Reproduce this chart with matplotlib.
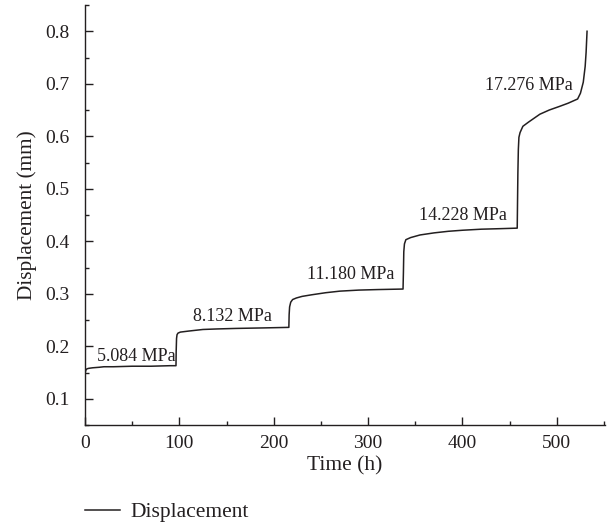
import numpy as np
import matplotlib
matplotlib.use("Agg")
import matplotlib.pyplot as plt
from matplotlib.ticker import MultipleLocator

plt.rcParams['font.family'] = ['Liberation Serif', 'DejaVu Serif']
plt.rcParams['font.size'] = 12

# time (h) and displacement (mm)
time_h = [0, 0.5, 1, 2, 4, 8, 15, 20, 30, 50, 70, 90, 96.4,
          96.6, 97, 97.5, 98.5, 101, 110, 120, 125, 140, 160, 190, 216,
          216.3, 216.8, 218, 220, 224, 230, 240, 255, 270, 290, 310, 337,
          337.4, 337.8, 338.5, 340, 345, 355, 370, 385, 400, 420, 440, 458,
          458.3, 458.7, 459.2, 459.8, 461, 464, 470, 482, 492, 503, 512, 522,
          525, 528, 530, 531, 532]
disp_mm = [0.148, 0.152, 0.155, 0.157, 0.158, 0.159, 0.160, 0.161, 0.161, 0.162, 0.162, 0.163, 0.163,
           0.19, 0.215, 0.222, 0.225, 0.227, 0.229, 0.231, 0.232, 0.233, 0.234, 0.235, 0.236,
           0.26, 0.275, 0.284, 0.289, 0.292, 0.295, 0.298, 0.302, 0.305, 0.307, 0.308, 0.309,
           0.34, 0.38, 0.395, 0.403, 0.407, 0.412, 0.416, 0.419, 0.421, 0.423, 0.424, 0.425,
           0.47, 0.53, 0.575, 0.598, 0.607, 0.619, 0.627, 0.642, 0.650, 0.657, 0.663, 0.671,
           0.682, 0.703, 0.733, 0.76, 0.8]

stress_labels = ["5.084 MPa", "8.132 MPa", "11.180 MPa", "14.228 MPa", "17.276 MPa"]
label_t = [54, 156, 282, 401, 470]
label_y = [0.180, 0.256, 0.336, 0.45, 0.697]

ink = '#231f20'

fig = plt.figure(figsize=(6.09, 5.27), dpi=100)
ax = fig.add_axes([0.1396, 0.1935, 0.8538, 0.797])

line, = ax.plot(time_h, disp_mm, color=ink, lw=1.1, label="Displacement")

for lab, tx, ty in zip(stress_labels, label_t, label_y):
    ax.text(tx, ty, lab, ha='center', va='center', fontsize=13, color=ink)

ax.set_xlim(0, 551)
ax.set_ylim(0.05, 0.85)
ax.xaxis.set_major_locator(MultipleLocator(100))
ax.xaxis.set_minor_locator(MultipleLocator(50))
ax.yaxis.set_minor_locator(MultipleLocator(0.05))
ax.set_yticks(np.arange(0.1, 0.81, 0.1))
ax.set_yticklabels([f"{v:.1f}" for v in np.arange(0.1, 0.81, 0.1)])

ax.tick_params(which='both', direction='in', color=ink, labelcolor=ink, width=1)
ax.tick_params(which='major', length=6, labelsize=14)
ax.tick_params(which='minor', length=3)
ax.tick_params(axis='x', pad=7)
ax.tick_params(axis='y', pad=11)

for s in ['top', 'right']:
    ax.spines[s].set_visible(False)
for s in ['left', 'bottom']:
    ax.spines[s].set_color(ink)
    ax.spines[s].set_linewidth(1)

ax.set_xlabel("Time (h)", fontsize=15.5, color=ink, labelpad=3)
ax.set_ylabel("Displacement (mm)", fontsize=15.3, color=ink, labelpad=6)

fig.legend(handles=[line], loc='center left', bbox_to_anchor=(0.108, 0.028), frameon=False,
           fontsize=15.5, handlelength=1.6, handletextpad=0.5, labelcolor=ink)

fig.savefig("out.png", dpi=100)
